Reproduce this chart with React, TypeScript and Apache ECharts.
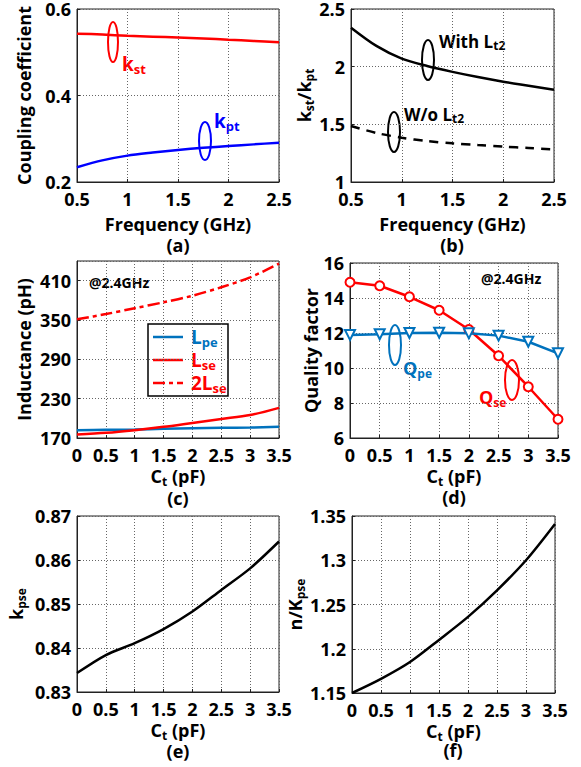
import React, { useEffect, useRef } from 'react';
import * as echarts from 'echarts';

const FONT = '"Open Sans", "Liberation Sans", sans-serif';

// (a) & (b)
const freq = [0.5, 0.75, 1, 1.25, 1.5, 1.75, 2, 2.25, 2.5];
const kst = [0.543, 0.541, 0.538, 0.536, 0.534, 0.532, 0.529, 0.526, 0.523];
const kpt = [0.234, 0.25, 0.261, 0.268, 0.274, 0.279, 0.283, 0.287, 0.291];
const ratioWith = [2.338, 2.18, 2.07, 2.006, 1.955, 1.91, 1.87, 1.835, 1.8];
const ratioWithout = [1.486, 1.425, 1.384, 1.355, 1.335, 1.32, 1.307, 1.295, 1.283];

// (c) – (f)
const ct = [0, 0.5, 1, 1.5, 2, 2.5, 3, 3.5];
const lpe = [182, 182.5, 183, 184, 185, 185.5, 186, 187];
const lse = [175.5, 178, 182, 187, 193, 199, 205, 216];
const twoLse = [351, 359, 368, 377, 387, 400, 415, 436];
const qse = [14.9, 14.7, 14.07, 13.3, 12.2, 10.7, 8.93, 7.07];
const qpe = [11.89, 11.93, 12.0, 12.02, 11.98, 11.85, 11.5, 10.84];
const kpse = [0.8343, 0.8384, 0.8411, 0.8443, 0.8483, 0.8532, 0.8581, 0.8642];
const nOverK = [1.15, 1.166, 1.185, 1.21, 1.236, 1.266, 1.3, 1.341];

const RED = '#ff0000';
const BLUE = '#0000ff';
const MBLUE = '#0072BD';

const zip = (xs: number[], ys: number[]) => xs.map((x, i) => [x, ys[i]]);

const subRich = (size: number, color = '#000') => ({
  n: { fontSize: size, fontWeight: 'bold', fontFamily: FONT, color, lineHeight: size + 4 },
  s: { fontSize: Math.round(size * 0.68), fontWeight: 'bold', fontFamily: FONT, color, lineHeight: Math.round(size * 0.68), verticalAlign: 'bottom' },
});

const grids = [
  { left: 77, top: 6, width: 202, height: 176 },
  { left: 351, top: 6, width: 203, height: 176 },
  { left: 77, top: 261, width: 202, height: 177 },
  { left: 350, top: 263, width: 208, height: 175 },
  { left: 77, top: 516, width: 202, height: 176 },
  { left: 352, top: 516, width: 203, height: 177 },
];

const splitLine = { show: true, lineStyle: { type: [1, 2], color: '#666', width: 1 } };

function xAxis(i: number, min: number, max: number, name: string, rich: boolean) {
  return {
    type: 'value', gridIndex: i, min, max, interval: 0.5,
    axisLine: { show: true, lineStyle: { color: '#222', width: 1 } },
    axisTick: { show: true, inside: true, length: 3, lineStyle: { color: '#222' } },
    axisLabel: { color: '#000', fontSize: 18, fontWeight: 'bold', fontFamily: FONT, margin: 8 },
    splitLine,
    name, nameLocation: 'middle', nameGap: rich ? 27 : 33,
    nameTextStyle: rich
      ? { rich: subRich(18) }
      : { fontSize: 18, fontWeight: 'bold', fontFamily: FONT, color: '#000' },
  };
}

function yAxis(i: number, min: number, max: number, interval: number, name: string, nameGap: number, hideMax = false) {
  return {
    type: 'value', gridIndex: i, min, max, interval,
    axisLine: { show: true, lineStyle: { color: '#222', width: 1 } },
    axisTick: { show: true, inside: true, length: 3, lineStyle: { color: '#222' } },
    axisLabel: {
      color: '#000', fontSize: 18, fontWeight: 'bold', fontFamily: FONT, margin: 6,
      showMaxLabel: !hideMax, padding: [4, 0, 0, 0],
    },
    splitLine,
    name, nameLocation: 'middle', nameGap,
    nameTextStyle: { fontSize: 18, fontWeight: 'bold', fontFamily: FONT, color: '#000', rich: subRich(18) },
  };
}

const line = (name: string, xi: number, data: number[][], color: string, type: any = 'solid', extra: any = {}) => ({
  name, type: 'line', xAxisIndex: xi, yAxisIndex: xi, data,
  symbol: 'none', lineStyle: { color, width: 2.5, type }, itemStyle: { color },
  ...extra,
});

const ell = (cx: number, cy: number, rx: number, ry: number, color: string) => ({
  type: 'ellipse', shape: { cx, cy, rx, ry }, style: { fill: 'none', stroke: color, lineWidth: 2 }, silent: true,
});

const txt = (x: number, y: number, text: string, color: string, size: number, align = 'left') => ({
  type: 'text', x, y, silent: true,
  style: {
    text, fill: color, fontSize: size, fontWeight: 'bold', fontFamily: FONT,
    textAlign: align, textVerticalAlign: 'middle', rich: subRich(size, color),
  },
});

const seg = (x1: number, y: number, x2: number, color: string, dash: any = null) => ({
  type: 'line', silent: true, shape: { x1, y1: y, x2, y2: y },
  style: { stroke: color, lineWidth: 2.5, lineDash: dash },
});

export default function App() {
  const ref = useRef<HTMLDivElement>(null);
  useEffect(() => {
    document.body.style.margin = '0';
    const chart = echarts.init(ref.current!, null, { renderer: 'svg' });
    chart.setOption({
      animation: false,
      backgroundColor: '#fff',
      grid: grids.map((g) => ({ ...g, show: true, borderColor: '#222', borderWidth: 1, backgroundColor: 'transparent' })),
      xAxis: [
        xAxis(0, 0.5, 2.5, 'Frequency (GHz)', false),
        xAxis(1, 0.5, 2.5, 'Frequency (GHz)', false),
        xAxis(2, 0, 3.5, '{n|C}{s|t}{n| (pF)}', true),
        xAxis(3, 0, 3.5, '{n|C}{s|t}{n| (pF)}', true),
        xAxis(4, 0, 3.5, '{n|C}{s|t}{n| (pF)}', true),
        xAxis(5, 0, 3.5, '{n|C}{s|t}{n| (pF)}', true),
      ],
      yAxis: [
        yAxis(0, 0.2, 0.6, 0.2, 'Coupling coefficient', 44),
        yAxis(1, 1, 2.5, 0.5, '{n|k}{s|st}{n|/k}{s|pt}', 33),
        yAxis(2, 170, 440, 60, 'Inductance (pH)', 44, true),
        yAxis(3, 6, 16, 2, 'Quality factor', 28),
        yAxis(4, 0.83, 0.87, 0.01, '{n|k}{s|pse}', 50),
        yAxis(5, 1.15, 1.35, 0.05, '{n|n/K}{s|pse}', 46),
      ],
      series: [
        line('kst', 0, zip(freq, kst), RED, 'solid', { smooth: 0.3 }),
        line('kpt', 0, zip(freq, kpt), BLUE, 'solid', { smooth: 0.3 }),
        line('withLt2', 1, zip(freq, ratioWith), '#000', 'solid', { smooth: 0.3 }),
        line('woLt2', 1, zip(freq, ratioWithout), '#000', [9, 7], { smooth: 0.3 }),
        line('Lpe', 2, zip(ct, lpe), MBLUE, 'solid', { smooth: 0.3 }),
        line('Lse', 2, zip(ct, lse), RED, 'solid', { smooth: 0.3 }),
        line('2Lse', 2, zip(ct, twoLse), RED, [12, 4, 4, 4], { smooth: 0.3 }),
        line('Qse', 3, zip(ct, qse), RED, 'solid', {
          symbol: 'emptyCircle', symbolSize: 9, itemStyle: { color: RED, borderColor: RED, borderWidth: 1.5 },
        }),
        line('Qpe', 3, zip(ct, qpe), MBLUE, 'solid', {
          symbol: 'emptyTriangle', symbolRotate: 180, symbolSize: 10,
          itemStyle: { color: MBLUE, borderColor: MBLUE, borderWidth: 1.5 },
        }),
        line('kpse', 4, zip(ct, kpse), '#000', 'solid', { smooth: 0.3 }),
        line('nk', 5, zip(ct, nOverK), '#000', 'solid', { smooth: 0.3 }),
      ],
      graphic: [
        ell(113, 42, 5, 20, RED),
        txt(122, 64, '{n|k}{s|st}', RED, 19),
        ell(205, 141, 6, 19, BLUE),
        txt(214, 121, '{n|k}{s|pt}', BLUE, 19),
        ell(428, 60, 6, 20, '#000'),
        txt(439, 41, '{n|With L}{s|t2}', '#000', 17),
        ell(394, 132, 6, 20, '#000'),
        txt(404, 114, '{n|W/o L}{s|t2}', '#000', 17),
        txt(89, 282, '@2.4GHz', '#000', 14),
        txt(481, 278, '@2.4GHz', '#000', 14),
        ell(395, 345, 6, 20, MBLUE),
        txt(403, 368, '{n|Q}{s|pe}', MBLUE, 18),
        ell(512, 380, 7, 20, RED),
        txt(479, 397, '{n|Q}{s|se}', RED, 18),
        // legend of (c)
        {
          type: 'rect', silent: true, shape: { x: 148, y: 324, width: 80, height: 72 },
          style: { fill: '#fff', stroke: '#000', lineWidth: 1.5 },
        },
        seg(153, 337, 183, MBLUE),
        seg(153, 360, 183, RED),
        seg(153, 383, 183, RED, [12, 4, 4, 4]),
        txt(191, 337, '{n|L}{s|pe}', MBLUE, 19),
        txt(191, 360, '{n|L}{s|se}', RED, 19),
        txt(191, 383, '{n|2L}{s|se}', RED, 19),
        // panel labels
        txt(178, 245, '(a)', '#000', 18, 'center'),
        txt(452, 245, '(b)', '#000', 18, 'center'),
        txt(178, 498, '(c)', '#000', 18, 'center'),
        txt(454, 497, '(d)', '#000', 18, 'center'),
        txt(178, 751, '(e)', '#000', 18, 'center'),
        txt(453, 750, '(f)', '#000', 18, 'center'),
      ],
    });
    return () => chart.dispose();
  }, []);
  return <div ref={ref} style={{ position: 'absolute', left: 0, top: 0, width: 581, height: 767 }} />;
}
